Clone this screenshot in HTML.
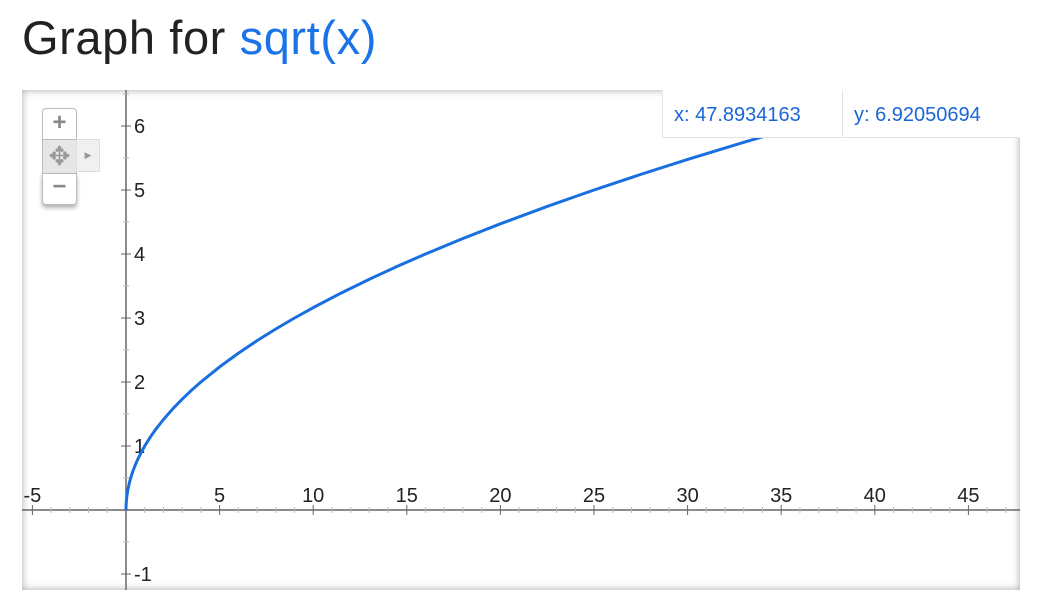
<!DOCTYPE html>
<html><head><meta charset="utf-8"><style>
body{margin:0;width:1046px;height:612px;background:#fff;font-family:"Liberation Sans",Arial,sans-serif;overflow:hidden;position:relative}
#title{position:absolute;left:22px;top:10px;font-size:47px;color:#222;letter-spacing:0.6px}
#title span{color:#1a73e8}
#chart{position:absolute;left:22px;top:90px;width:998px;height:500px;box-shadow:inset 0 0 8px rgba(0,0,0,0.35);background:#fff;overflow:hidden}
#readout{position:absolute;left:640px;top:0px;width:357px;height:47px;background:#fff;border:1px solid #e4e4e4;border-top:none;display:flex;font-size:20px;color:#1a66d6}
#readout div{padding:14px 0 0 11px;box-sizing:border-box}
#zoomctl{position:absolute;left:20px;top:18px}
</style></head><body>
<div id="title">Graph for <span>sqrt(x)</span></div>
<div id="chart">
<svg id="svg" width="998" height="500" style="position:absolute;left:0;top:0"></svg>
<div id="zoomctl">
<div style="position:absolute;left:0;top:0;width:33px;height:30px;border:1px solid #bbb;border-radius:4px 4px 0 0;background:#fff;text-align:center;font-size:24px;line-height:28px;color:#888;font-weight:bold">+</div>
<div style="position:absolute;left:0;top:31px;width:33px;height:33px;border:1px solid #bbb;background:#e6e6e6;text-align:center;font-size:26px;line-height:33px;color:#999">✥</div>
<div style="position:absolute;left:34px;top:31px;width:22px;height:31px;border:1px solid #ddd;background:#f0f0f0;text-align:center;font-size:9px;line-height:31px;color:#999">▶</div>
<div style="position:absolute;left:0;top:65px;width:33px;height:30px;border:1px solid #bbb;border-radius:0 0 4px 4px;background:#fff;text-align:center;font-size:24px;line-height:26px;color:#888;font-weight:bold;box-shadow:0 3px 4px rgba(0,0,0,0.3)">−</div>
</div>
<div id="readout">
<div style="width:180px;border-right:1px solid #e4e4e4">x: 47.8934163</div>
<div>y: 6.92050694</div>
</div>
</div>
<script>
const xTicks=[-5,5,10,15,20,25,30,35,40,45];
const yTicks=[-1,1,2,3,4,5,6];
const curveX=[0,0.005,0.02,0.05,0.1,0.18,0.25,0.35,0.5,0.7,1,1.3,1.6,2,2.5,3,3.5,4,5,6,7,8,9,10,11.5,13,14.5,16,18,20,22.5,25,27.5,30,33,36,39,42,45,48];
const curveY=[0,0.071,0.141,0.224,0.316,0.424,0.5,0.592,0.707,0.837,1,1.14,1.265,1.414,1.581,1.732,1.871,2,2.236,2.449,2.646,2.828,3,3.162,3.391,3.606,3.808,4,4.243,4.472,4.743,5,5.244,5.477,5.745,6,6.245,6.481,6.708,6.928];
const sx=v=>104+v*18.72, sy=v=>420-v*64;
const svg=document.getElementById('svg'),NS='http://www.w3.org/2000/svg';
function mk(t,a){const e=document.createElementNS(NS,t);for(const k in a)e.setAttribute(k,a[k]);svg.appendChild(e);return e;}
let e;
e=mk('line',{x1:0,x2:998,y1:sy(0),y2:sy(0),stroke:'#666','stroke-width':1.5});


e=mk('line',{x1:sx(0),x2:sx(0),y1:0,y2:500,stroke:'#666','stroke-width':1.5});


for(let v=-6;v<=48;v++){const maj=v%5===0;e=mk('line',{x1:sx(v),x2:sx(v),y1:sy(0)-(maj?5:3),y2:sy(0)+(maj?5:3),stroke:maj?'#666':'#bbb','stroke-width':1});

}
for(let v=-2;v<=14;v++){const y=v/2,maj=v%2===0;e=mk('line',{x1:sx(0)-(maj?5:3),x2:sx(0)+(maj?5:3),y1:sy(y),y2:sy(y),stroke:maj?'#666':'#bbb','stroke-width':1});

}
xTicks.forEach(v=>{e=mk('text',{x:sx(v),y:sy(0)-8,'font-size':20,fill:'#222','text-anchor':'middle','font-family':'Liberation Sans, sans-serif'});e.textContent=v;

});
yTicks.forEach(v=>{e=mk('text',{x:sx(0)+8,y:sy(v)+7,'font-size':20,fill:'#222','font-family':'Liberation Sans, sans-serif'});e.textContent=v;

});
e=mk('polyline',{points:curveX.map((x,i)=>sx(x)+','+sy(curveY[i])).join(' '),fill:'none',stroke:'#1a6fe0','stroke-width':3,'stroke-linejoin':'round'});


svg.parentNode.insertBefore(svg,svg.parentNode.firstChild);
</script>
</body></html>
